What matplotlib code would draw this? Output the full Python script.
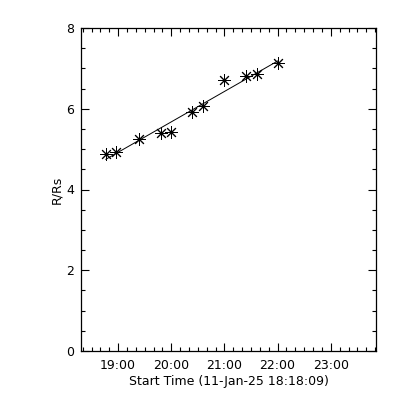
import numpy as np
import matplotlib
matplotlib.use('Agg')
import matplotlib.pyplot as plt
from matplotlib.ticker import MultipleLocator, FuncFormatter

# data (time in decimal hours, 11-Jan-25)
times = [18.77, 18.97, 19.40, 19.81, 20.00, 20.39, 20.60, 20.99, 21.40, 21.61, 22.01]
heights = [4.88, 4.93, 5.25, 5.41, 5.43, 5.92, 6.07, 6.70, 6.81, 6.87, 7.13]
start_time = 18 + 18/60 + 9/3600
x_end = 23.85
xtick_hours = [19, 20, 21, 22, 23]
ytick_vals = [0, 2, 4, 6, 8]

t = np.array(times)
h = np.array(heights)
fit = np.polyfit(t, h, 1)

fig = plt.figure(figsize=(4, 4), dpi=100)
ax = fig.add_axes([0.2025, 0.1225, 0.7375, 0.8075])

ax.plot(t, np.polyval(fit, t), color='black', lw=0.7)
ax.plot(t, h, ls='none', marker=(8, 2, 0), ms=9, mec='black', mew=0.7)

ax.set_xlim(start_time, x_end)
ax.set_ylim(0, 8)
ax.set_xticks(xtick_hours)
ax.xaxis.set_major_formatter(FuncFormatter(lambda v, p: '%02d:00' % int(round(v))))
ax.xaxis.set_minor_locator(MultipleLocator(1/6))
ax.set_yticks(ytick_vals)
ax.yaxis.set_minor_locator(MultipleLocator(0.5))

ax.tick_params(which='both', direction='in', top=True, right=True, labelsize=9)
ax.tick_params(axis='x', which='both', pad=6)
ax.tick_params(axis='y', which='both', pad=5)
ax.tick_params(which='major', length=6, width=0.8)
ax.tick_params(which='minor', length=3, width=0.8)
for s in ax.spines.values():
    s.set_linewidth(0.9)

ax.set_xlabel('Start Time (11-Jan-25 18:18:09)', fontsize=9, labelpad=2)
ax.set_ylabel('R/Rs', fontsize=9, labelpad=2)

fig.savefig('out.png', dpi=100)
